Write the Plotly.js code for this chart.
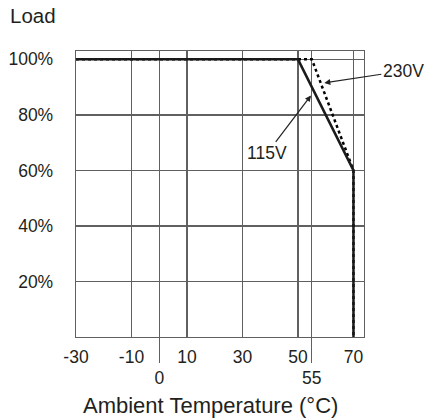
<!DOCTYPE html>
<html>
<head>
<meta charset="utf-8">
<script src="https://cdn.plot.ly/plotly-3.0.1.min.js"></script>
<style>html,body{margin:0;padding:0;background:#fff;}#chart{width:429px;height:419px;}</style>
</head>
<body>
<div id="chart"></div>
<script>
// Data
const temp115 = [-30, 50, 70, 70];
const load115 = [100, 100, 60, 0];
const temp230 = [-30, 55, 70, 70];
const load230 = [100, 100, 60, 0];
const mainTickVals = [-30, -10, 0, 10, 30, 50, 55, 70];
const mainTickText = ['-30', '-10', '', '10', '30', '50', '', '70'];
const lowTickVals = [0, 55];
const lowTickText = ['0', '55'];
const yTickVals = [20, 40, 60, 80, 100];
const yTickText = ['20%', '40%', '60%', '80%', '100%'];

const FONT = 'Liberation Sans, Arial, sans-serif';
const TXT = '#231f20';
const GRID = '#606060';
const xRange = [-30, 73.8];

const traces = [
  {x: temp230, y: load230, name: '230V', mode: 'lines', xaxis: 'x', yaxis: 'y',
   line: {color: '#000', width: 2.5, dash: '3px,3px'}, hoverinfo: 'skip'},
  {x: temp115, y: load115, name: '115V', mode: 'lines', xaxis: 'x', yaxis: 'y',
   line: {color: '#1a1a1a', width: 2.5}, hoverinfo: 'skip'},
  {x: [0], y: [null], xaxis: 'x2', yaxis: 'y', mode: 'markers', hoverinfo: 'skip', showlegend: false}
];

const layout = {
  width: 429, height: 419,
  margin: {l: 76, r: 65, t: 51, b: 82},
  paper_bgcolor: '#fff', plot_bgcolor: '#fff',
  showlegend: false,
  font: {family: FONT, color: TXT, size: 17.5},
  title: {text: 'Load', x: 10/429, xanchor: 'left', xref: 'container',
          y: 1 - 16/419, yanchor: 'middle', yref: 'container',
          font: {family: FONT, size: 20.5, color: TXT}},
  xaxis: {range: xRange, tickmode: 'array', tickvals: mainTickVals, ticktext: mainTickText,
          showgrid: true, gridcolor: GRID, gridwidth: 1.3, zeroline: false,
          showline: true, mirror: true, linecolor: GRID, linewidth: 1.3,
          ticks: '', ticklabelstandoff: 4, tickfont: {size: 17.5, color: TXT}},
  xaxis2: {range: xRange, overlaying: 'x', anchor: 'y', side: 'bottom',
           tickmode: 'array', tickvals: lowTickVals, ticktext: lowTickText,
           showgrid: false, zeroline: false, showline: false,
           ticks: 'outside', ticklen: 25, tickwidth: 1.3, tickcolor: GRID,
           ticklabelstandoff: 0, tickfont: {size: 17.5, color: TXT}},
  yaxis: {range: [0, 103], tickmode: 'array', tickvals: yTickVals, ticktext: yTickText,
          showgrid: true, gridcolor: GRID, gridwidth: 1.3, zeroline: false,
          showline: true, mirror: true, linecolor: GRID, linewidth: 1.3,
          ticks: '', ticklabelstandoff: 18, tickfont: {size: 17.5, color: TXT}},
  annotations: [
    {x: 59.5, y: 91.5, xref: 'x', yref: 'y', text: '230V', showarrow: true,
     ax: 79, ay: -12, arrowhead: 2, arrowsize: 1, arrowwidth: 1.2, arrowcolor: '#222',
     font: {size: 17.5, color: TXT}},
    {x: 54.7, y: 87, xref: 'x', yref: 'y', text: '115V', showarrow: true,
     ax: -44, ay: 58, arrowhead: 2, arrowsize: 1, arrowwidth: 1.2, arrowcolor: '#222',
     font: {size: 17.5, color: TXT}},
    {x: (211-76)/288.3, y: -(405-336.7)/286, xref: 'paper', yref: 'paper',
     text: 'Ambient Temperature (°C)', showarrow: false, xanchor: 'center', yanchor: 'middle',
     font: {size: 22, color: TXT}}
  ]
};

Plotly.newPlot('chart', traces, layout, {staticPlot: true});
</script>
</body>
</html>
